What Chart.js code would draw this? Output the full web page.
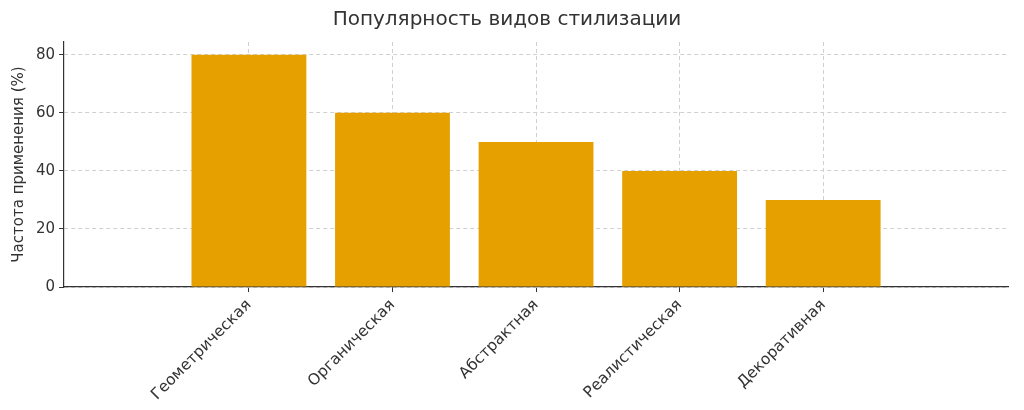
<!DOCTYPE html>
<html><head><meta charset="utf-8">
<script src="https://cdn.jsdelivr.net/npm/chart.js@4"></script>
<style>html,body{margin:0;padding:0;background:#fff}#w{width:1024px;height:410px}</style>
</head><body><div id="w"><canvas id="c"></canvas></div>
<script>
const categories = ["Геометрическая","Органическая","Абстрактная","Реалистическая","Декоративная"];
const values = [80,60,50,40,30];
const yTicks = [0,20,40,60,80];
const F = "'DejaVu Sans', sans-serif";
new Chart(document.getElementById('c'), {
  type: 'bar',
  data: { datasets: [{ data: values.map((v, i) => ({ x: i, y: v })), backgroundColor: '#E6A000', categoryPercentage: 1, barPercentage: 0.8 }] },
  options: {
    responsive: true, maintainAspectRatio: false, animation: false,
    layout: { padding: { top: 4, right: 16, left: 6, bottom: 2 } },
    plugins: {
      legend: { display: false }, tooltip: { enabled: false },
      title: { display: true, text: 'Популярность видов стилизации', color: '#333', font: { family: F, size: 20, weight: 'normal' }, padding: { top: 4, bottom: 10 } }
    },
    scales: {
      x: {
        type: 'linear', min: -0.63, max: 4.63,
        afterBuildTicks: ax => { ax.ticks = categories.map((c, i) => ({ value: i })); },
        grid: { color: '#d0d0d0', tickColor: '#333', tickLength: 5, offset: false },
        border: { color: '#333', width: 1.2, dash: [4, 3] },
        ticks: { color: '#333', font: { family: F, size: 15.5 }, minRotation: 45, maxRotation: 45, padding: 4, callback: v => categories[v] }
      },
      y: {
        min: 0, max: 84.4,
        afterBuildTicks: ax => { ax.ticks = yTicks.map(v => ({ value: v })); },
        grid: { color: '#d0d0d0', tickColor: '#333', tickLength: 5 },
        border: { color: '#333', width: 1.2, dash: [4, 3] },
        ticks: { color: '#333', font: { family: F, size: 15 }, padding: 4 },
        title: { display: true, text: 'Частота применения (%)', color: '#333', font: { family: F, size: 15 } }
      }
    }
  }
});
</script></body></html>
